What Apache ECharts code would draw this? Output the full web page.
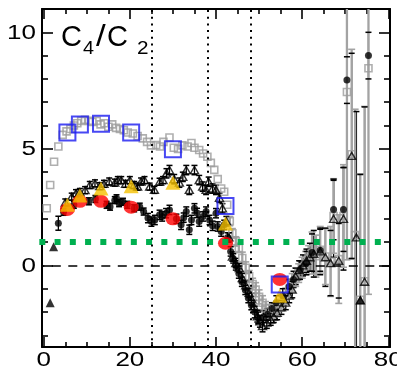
<!DOCTYPE html>
<html>
<head>
<meta charset="utf-8">
<script src="https://cdn.jsdelivr.net/npm/echarts@6/dist/echarts.min.js"></script>
<style>
  html, body { margin: 0; padding: 0; background: #fff; }
  #chart { width: 397px; height: 372px; }
</style>
</head>
<body>
<div id="chart"></div>
<script>
// ---- axis ranges and tick positions ----
const xMin = -0.4, xMax = 80.4;
const yMin = -3.5, yMax = 11;
const xMajorTicks = [0, 20, 40, 60, 80];
const xMinorTicks = [5, 10, 15, 25, 30, 35, 45, 50, 55, 65, 70, 75];
const yMajorTicks = [0, 5, 10];
const yMinorTicks = [-3, -2, -1, 1, 2, 3, 4, 6, 7, 8, 9];

// ---- reference lines ----
const verticalDividers = [25, 38, 48];
const unityLevel = 1;
const unitySpan = [-1.02, 78.8];
const zeroLevel = 0;

// ---- grey open squares (x, value, error) ----
const greyX = [0.7, 1.5, 2.4, 3.4, 4.4, 5.3, 6.2, 7.0, 7.8, 8.7, 9.6, 10.5, 11.3, 12.3, 13.2, 14.1, 15.0, 15.9, 16.8, 17.7,
  18.6, 19.5, 20.7, 21.8, 23.0, 24.0, 24.9, 26.1, 27.0, 27.8, 29.2, 30.2, 31.2, 32.2, 33.4, 34.3, 35.0, 36.1, 37.0, 38.0,
  38.8, 39.6, 40.4, 41.2, 41.9, 42.6, 43.2, 43.8, 44.6, 45.3, 46.1, 46.9, 47.7, 48.5, 49.2, 50.0, 50.8, 51.5, 52.3, 53.2,
  54.2, 55.2, 56.2, 57.0, 57.7, 58.5, 59.2, 60.0, 60.8, 61.5, 62.3, 63.2, 64.2, 65.4, 66.6, 67.3, 68.5, 69.6, 70.4, 71.5,
  72.3, 73.5, 74.5, 75.4];
const greyY = [2.45, 3.45, 4.45, 5.1, 5.6, 5.75, 5.85, 6.0, 6.1, 6.2, 6.25, 6.2, 6.15, 6.2, 6.05, 6.1, 5.95, 6.05, 5.9, 5.85,
  5.8, 5.7, 5.66, 5.55, 5.45, 5.3, 5.15, 5.16, 5.1, 5.3, 5.49, 5.05, 5.0, 5.15, 5.1, 5.25, 5.05, 4.95, 4.8, 4.66,
  4.4, 4.1, 3.7, 3.3, 3.16, 2.6, 1.9, 1.38, 1.03, 0.75, 0.32, -0.1, -0.47, -0.8, -1.04, -1.35, -1.6, -1.85, -1.97, -2.0,
  -1.9, -1.6, -1.32, -1.0, -0.75, -0.5, -0.33, -0.1, 0.1, 0.3, 0.53, 0.4, 0.67, 0.38, 0.17, 2.12, 0.27, 2.12, 7.44, 4.77,
  1.3, -1.47, -0.68, 8.46];
const greyErr = [0, 0, 0, 0, 0, 0, 0, 0, 0, 0, 0, 0, 0, 0, 0, 0, 0, 0, 0, 0,
  0, 0, 0, 0, 0, 0, 0, 0, 0, 0, 0, 0, 0, 0, 0, 0, 0, 0, 0, 0,
  0, 0, 0, 0, 0, 0, 0.2, 0.2, 0.2, 0.2, 0.25, 0.25, 0.25, 0.25, 0.3, 0.3, 0.3, 0.3, 0.3, 0.3,
  0.3, 0.35, 0.35, 0.35, 0.4, 0.4, 0.4, 0.45, 0.5, 0.55, 0.9, 0.9, 1.0, 1.2, 1.5, 1.6, 1.9, 2.2, 7.2, 4.5,
  5.4, 5.4, 7.5, 9.7];

// ---- black open triangles (x, value, error) ----
const triX = [5.0, 6.5, 7.5, 8.4, 9.6, 10.7, 11.9, 13.0, 14.0, 15.2, 16.5, 17.2, 18.0, 19.0, 20.0, 21.0, 21.8, 22.6, 23.4, 24.6,
  25.7, 26.9, 27.7, 28.5, 29.2, 30.3, 31.5, 32.3, 33.1, 33.8, 35.0, 36.1, 36.9, 37.7, 38.3, 39.2, 40.0, 40.8, 41.5, 42.4,
  43.0, 43.8, 44.6, 45.4, 46.1, 46.9, 47.7, 48.3, 48.8, 49.6, 50.2, 50.8, 51.8, 52.7, 53.4, 54.2, 55.2, 56.2, 57.0, 57.7,
  58.5, 59.3, 60.2, 61.0, 61.8, 62.7, 64.2, 65.4, 66.6, 67.3, 68.5, 69.6, 71.5, 72.6, 73.5, 74.5];
const triY = [2.7, 2.95, 3.1, 3.15, 3.23, 3.45, 3.52, 3.4, 3.5, 3.6, 3.55, 3.66, 3.66, 3.5, 3.66, 3.45, 3.38, 3.6, 3.66, 3.38,
  3.24, 3.59, 3.66, 3.95, 4.09, 3.7, 3.55, 3.8, 4.09, 3.24, 4.09, 3.66, 3.38, 3.24, 3.59, 3.3, 3.24, 2.9, 2.45, 1.9,
  1.2, 0.38, 0.1, -0.11, -0.54, -0.85, -1.18, -1.45, -1.75, -2.18, -2.4, -2.6, -2.45, -2.32, -2.2, -2.03, -1.8, -1.6, -1.3, -1.04,
  -0.47, -0.2, 0.0, 0.2, 0.35, 0.5, 0.6, 0.35, 0.1, 2.0, 0.2, 2.0, 4.7, 1.2, -1.5, -0.7];
const triErr = [0.15, 0.15, 0.15, 0.15, 0.15, 0.15, 0.15, 0.15, 0.15, 0.15, 0.15, 0.15, 0.15, 0.15, 0.15, 0.15, 0.15, 0.15, 0.15, 0.15,
  0.15, 0.15, 0.15, 0.2, 0.2, 0.2, 0.2, 0.2, 0.2, 0.2, 0.2, 0.2, 0.2, 0.2, 0.2, 0.2, 0.2, 0.2, 0.2, 0.2,
  0.2, 0.2, 0.2, 0.2, 0.2, 0.2, 0.2, 0.25, 0.25, 0.25, 0.25, 0.25, 0.25, 0.25, 0.25, 0.3, 0.3, 0.3, 0.3, 0.35,
  0.35, 0.4, 0.45, 0.5, 0.6, 1.0, 1.0, 1.25, 1.4, 1.65, 1.6, 2.2, 4.4, 5.4, 5.4, 7.5];

// ---- black filled circles (x, value, error) ----
const dotX = [3.4, 4.6, 7.0, 10.5, 12.0, 14.6, 15.4, 16.5, 16.9, 17.5, 18.4, 19.4, 21.0, 22.3, 23.2, 24.2, 25.0, 25.8, 26.9, 27.5,
  28.4, 29.2, 30.8, 31.9, 32.5, 33.1, 33.8, 34.3, 35.0, 35.6, 36.1, 37.0, 37.7, 38.5, 39.2, 40.0, 40.4, 41.2, 41.9, 42.7,
  43.4, 44.0, 44.6, 45.3, 46.0, 46.8, 47.5, 48.2, 49.0, 49.8, 51.0, 52.0, 53.0, 54.0, 55.5, 57.0, 58.0, 59.5, 61.0, 62.3,
  64.2, 67.3, 69.6, 70.4, 75.4];
const dotY = [1.81, 2.3, 2.6, 2.75, 2.85, 2.6, 2.52, 2.8, 2.88, 2.67, 2.73, 2.6, 2.45, 2.52, 2.31, 2.03, 1.88, 1.95, 2.17, 2.1,
  2.24, 2.38, 2.0, 1.74, 2.05, 2.31, 1.53, 1.95, 2.45, 2.25, 1.88, 2.1, 2.31, 1.95, 1.7, 2.24, 1.67, 1.45, 1.74, 1.2,
  0.6, 0.3, 0.0, -0.35, -0.7, -1.05, -1.4, -1.7, -2.0, -2.25, -2.2, -2.1, -1.85, -1.6, -1.3, -0.9, -0.6, -0.2, 0.1, 0.55,
  0.65, 2.4, 2.4, 7.95, 9.0];
const dotErr = [0.3, 0.15, 0.15, 0.15, 0.15, 0.15, 0.15, 0.15, 0.15, 0.15, 0.15, 0.15, 0.15, 0.15, 0.15, 0.2, 0.2, 0.2, 0.2, 0.2,
  0.2, 0.2, 0.2, 0.2, 0.2, 0.2, 0.2, 0.2, 0.2, 0.2, 0.2, 0.2, 0.2, 0.2, 0.2, 0.2, 0.2, 0.2, 0.2, 0.2,
  0.2, 0.2, 0.2, 0.2, 0.2, 0.2, 0.2, 0.2, 0.25, 0.25, 0.25, 0.25, 0.25, 0.3, 0.3, 0.3, 0.35, 0.4, 0.5, 0.8,
  0.9, 1.3, 1.8, 1.0, 1.0];

// ---- black filled triangles ----
const solidTriX = [1.5, 2.3, 73.5];
const solidTriY = [-1.6, 0.8, -1.47];

// ---- highlighted points: red circles, gold triangles, blue squares ----
const keyX = [5.5, 8.4, 13.3, 20.3, 30.0, 42.2, 54.8];
const redY = [2.4, 2.75, 2.75, 2.5, 2.0, 0.95, -0.6];
const goldY = [2.6, 3.0, 3.3, 3.4, 3.55, 1.8, -1.3];
const blueY = [5.7, 6.05, 6.08, 5.7, 4.98, 2.55, -0.82];

const zip = (xs, ys, es) => xs.map((x, i) => es ? [x, ys[i], es[i]] : [x, ys[i]]);

const FONT = '"Liberation Sans", Arial, Helvetica, sans-serif';

// error bar drawing: 'line' = vertical stem, 'cap' = horizontal end caps
function errorPart(part, color, width, halfCap) {
  return function (params, api) {
    const x = api.value(0), y = api.value(1), e = api.value(2);
    const out = { type: 'group', children: [] };
    if (!(e > 0.08)) return out;
    const hiV = y + e, loV = y - e;
    const hi = api.coord([x, Math.min(hiV, yMax)]);
    const lo = api.coord([x, Math.max(loV, yMin)]);
    const st = { stroke: color, lineWidth: width };
    if (part === 'line') {
      out.children.push({ type: 'line', shape: { x1: hi[0], y1: hi[1], x2: lo[0], y2: lo[1] }, style: st });
    } else {
      if (hiV <= yMax) out.children.push({ type: 'line', shape: { x1: hi[0] - halfCap, y1: hi[1], x2: hi[0] + halfCap, y2: hi[1] }, style: st });
      if (loV >= yMin) out.children.push({ type: 'line', shape: { x1: lo[0] - halfCap, y1: lo[1], x2: lo[0] + halfCap, y2: lo[1] }, style: st });
    }
    return out;
  };
}
function errSeries(data, part, color, width, halfCap) {
  return {
    type: 'custom', silent: true, data: data,
    encode: { x: 0, y: 1 },
    renderItem: errorPart(part, color, width, halfCap)
  };
}
function scatter(data, symbol, size, itemStyle) {
  return { type: 'scatter', silent: true, data: data, symbol: symbol, symbolSize: size, itemStyle: itemStyle };
}

const greyData = zip(greyX, greyY, greyErr);
const triData = zip(triX, triY, triErr);
const dotData = zip(dotX, dotY, dotErr);

function axisLineDef(on) {
  return on ? { show: true, onZero: false, lineStyle: { color: '#000', width: 2 } } : { show: false, onZero: false };
}
function xAxisDef(position, ticks, len, lineOn) {
  return {
    type: 'value', min: xMin, max: xMax, position: position,
    axisLine: axisLineDef(lineOn),
    axisTick: { show: true, inside: true, length: len, customValues: ticks, lineStyle: { color: '#000', width: 1.6 } },
    axisLabel: { show: false },
    splitLine: { show: false }
  };
}
function yAxisDef(position, ticks, len, lineOn) {
  return {
    type: 'value', min: yMin, max: yMax, position: position,
    axisLine: axisLineDef(lineOn),
    axisTick: { show: true, inside: true, length: len, customValues: ticks, lineStyle: { color: '#000', width: 1.6 } },
    axisLabel: { show: false },
    splitLine: { show: false }
  };
}

const chart = echarts.init(document.getElementById('chart'), null, { renderer: 'canvas' });
chart.setOption({
  animation: false,
  backgroundColor: '#fff',
  grid: { left: 42, top: 9, width: 348, height: 338 },
  xAxis: [
    xAxisDef('bottom', xMajorTicks, 10, true),
    xAxisDef('bottom', xMinorTicks, 5, false),
    xAxisDef('top', xMajorTicks, 10, true),
    xAxisDef('top', xMinorTicks, 5, false)
  ],
  yAxis: [
    yAxisDef('left', yMajorTicks, 11, true),
    yAxisDef('left', yMinorTicks, 6, false),
    yAxisDef('right', yMajorTicks, 11, true),
    yAxisDef('right', yMinorTicks, 6, false)
  ],
  series: [
    // reference lines: dotted dividers and dashed zero
    {
      type: 'line', data: [], silent: true,
      markLine: {
        silent: true, symbol: 'none', label: { show: false }, animation: false,
        data: verticalDividers.map(v => ({ xAxis: v, lineStyle: { color: '#000', width: 2, type: [2, 4.7] } }))
          .concat([{ yAxis: zeroLevel, lineStyle: { color: '#000', width: 1.6, type: [9, 7.5], dashOffset: 6.7 } }])
      }
    },
    errSeries(triData, 'line', '#000', 1.3, 3),
    errSeries(dotData, 'line', '#000', 1.3, 3),
    errSeries(greyData, 'line', '#a3a3a3', 2.3, 3),
    errSeries(greyData, 'cap', '#a3a3a3', 1.6, 3.5),
    errSeries(triData, 'cap', '#000', 1.5, 3),
    errSeries(dotData, 'cap', '#000', 1.5, 3),
    scatter(zip(greyX, greyY), 'rect', 7, { color: 'rgba(0,0,0,0)', borderColor: '#9b9b9b', borderWidth: 1.6 }),
    scatter(zip(triX, triY), 'triangle', [8, 7], { color: 'rgba(0,0,0,0)', borderColor: '#000', borderWidth: 1.4 }),
    scatter(zip(dotX, dotY), 'circle', 7, { color: '#000' }),
    scatter(zip(solidTriX, solidTriY), 'triangle', 9, { color: '#000' }),
    // unity reference level
    {
      type: 'line', silent: true, clip: false, symbol: 'none',
      data: unitySpan.map(x => [x, unityLevel]),
      lineStyle: { color: '#00b050', width: 6, type: [6, 9.25], cap: 'butt' }
    },
    scatter(zip(keyX, redY), 'circle', [15, 13], { color: '#ff0000' }),
    scatter(zip(keyX, goldY), 'triangle', [15, 14], { color: '#f5c000' }),
    scatter(zip(keyX, blueY), 'rect', 16, { color: 'rgba(0,0,0,0)', borderColor: '#1a1af0', borderWidth: 2 })
  ]
});

// tick labels (wide-set digits) and the panel title, placed from the axis scales
const toPx = (v) => chart.convertToPixel({ xAxisIndex: 0, yAxisIndex: 0 }, v);
const labelFont = '20px ' + FONT;
const graphics = [];
xMajorTicks.forEach(v => {
  const p = toPx([v, yMin]);
  graphics.push({ type: 'text', x: p[0], y: p[1] + 13, scaleX: 1.3, silent: true,
    style: { text: String(v), font: labelFont, fill: '#000', align: 'center', verticalAlign: 'middle' } });
});
yMajorTicks.forEach(v => {
  const p = toPx([xMin, v]);
  graphics.push({ type: 'text', x: p[0] - 6, y: p[1] + 1, scaleX: 1.3, silent: true,
    style: { text: String(v), font: labelFont, fill: '#000', align: 'right', verticalAlign: 'middle' } });
});
const titleFont = '29px ' + FONT, subFont = '18px ' + FONT;
graphics.push(
  { type: 'text', x: 61, y: 38, silent: true, style: { text: 'C', font: titleFont, fill: '#000', verticalAlign: 'middle' } },
  { type: 'text', x: 83, y: 49, scaleX: 1.1, silent: true, style: { text: '4', font: subFont, fill: '#000', verticalAlign: 'middle' } },
  { type: 'text', x: 96, y: 38, scaleX: 1.2, silent: true, style: { text: '/', font: titleFont, fill: '#000', verticalAlign: 'middle' } },
  { type: 'text', x: 107, y: 38, silent: true, style: { text: 'C', font: titleFont, fill: '#000', verticalAlign: 'middle' } },
  { type: 'text', x: 137, y: 49, scaleX: 1.15, silent: true, style: { text: '2', font: subFont, fill: '#000', verticalAlign: 'middle' } }
);
chart.setOption({ graphic: graphics });
</script>
</body>
</html>
